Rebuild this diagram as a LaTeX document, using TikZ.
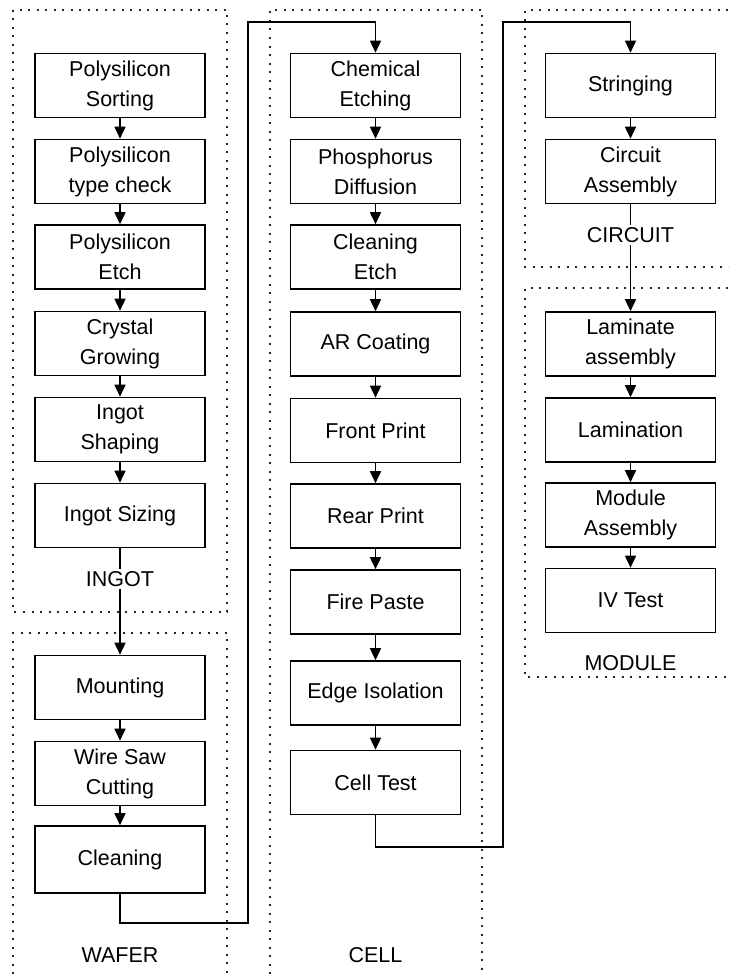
\documentclass[tikz,border=0pt]{standalone}
\usepackage{fontspec}
\setmainfont{Liberation Sans}
\usetikzlibrary{arrows.meta}
\begin{document}
\begin{tikzpicture}[x=1pt,y=-1pt,
  stepbox/.style={draw, line width=1.6pt, minimum width=170pt, minimum height=64pt, inner sep=0pt, align=center, font=\fontsize{21.5}{30}\selectfont},
  grouplbl/.style={inner sep=2pt, font=\fontsize{21.5}{30}\selectfont},
  conn/.style={line width=1.6pt, -{Triangle[width=11pt,length=12pt]}},
  plain/.style={line width=1.6pt},
  grp/.style={line width=2.2pt, dash pattern=on 2pt off 6.5pt, draw=black!85}]
\useasboundingbox (0,0) rectangle (728,974);
% group frames
\draw[grp] (13,10) rectangle (227,612);
\draw[grp] (13,974) -- (13,633) -- (227,633) -- (227,974);
\draw[grp] (270,974) -- (270,10) -- (482,10) -- (482,974);
\draw[grp] (728,10) -- (525,10) -- (525,267) -- (728,267);
\draw[grp] (728,288) -- (525,288) -- (525,677) -- (728,677);
% INGOT column
\node[stepbox] (ps) at (120,85.5) {Polysilicon\\Sorting};
\node[stepbox] (pt) at (120,171.5) {Polysilicon\\type check};
\node[stepbox] (pe) at (120,257) {Polysilicon\\Etch};
\node[stepbox] (cg) at (120,343.5) {Crystal\\Growing};
\node[stepbox] (is) at (120,429.5) {Ingot\\Shaping};
\node[stepbox] (iz) at (120,515.5) {Ingot Sizing};
\node[grouplbl] (lingot) at (120,579) {INGOT};
% WAFER column
\node[stepbox] (mo) at (120,687.5) {Mounting};
\node[stepbox] (ws) at (120,773.5) {Wire Saw\\Cutting};
\node[stepbox, minimum height=67pt] (cl) at (120,859.5) {Cleaning};
\node[grouplbl] (lwafer) at (120,955) {WAFER};
% CELL column
\node[stepbox] (ce) at (375.5,85.5) {Chemical\\Etching};
\node[stepbox] (pd) at (375.5,171.5) {Phosphorus\\Diffusion};
\node[stepbox] (cle) at (375.5,257) {Cleaning\\Etch};
\node[stepbox] (ar) at (375.5,344) {AR Coating};
\node[stepbox] (fp) at (375.5,430.5) {Front Print};
\node[stepbox] (rp) at (375.5,516) {Rear Print};
\node[stepbox] (fi) at (375.5,602) {Fire Paste};
\node[stepbox] (ei) at (375.5,693) {Edge Isolation};
\node[stepbox] (ct) at (375.5,782.5) {Cell Test};
\node[grouplbl] (lcell) at (375.5,955) {CELL};
% CIRCUIT column
\node[stepbox] (st) at (630.5,85.5) {Stringing};
\node[stepbox] (ca) at (630.5,171.5) {Circuit\\Assembly};
\node[grouplbl] (lcircuit) at (630.5,235) {CIRCUIT};
% MODULE column
\node[stepbox] (la) at (630.5,344) {Laminate\\assembly};
\node[stepbox] (lm) at (630.5,430) {Lamination};
\node[stepbox] (ma) at (630.5,515) {Module\\Assembly};
\node[stepbox] (iv) at (630.5,600.5) {IV Test};
\node[grouplbl] (lmodule) at (630.5,663) {MODULE};
% connectors
\draw[conn] (ps) -- (pt);
\draw[conn] (pt) -- (pe);
\draw[conn] (pe) -- (cg);
\draw[conn] (cg) -- (is);
\draw[conn] (is) -- (iz);
\draw[plain] (iz) -- (lingot);
\draw[conn] (lingot) -- (mo);
\draw[conn] (mo) -- (ws);
\draw[conn] (ws) -- (cl);
\coordinate (w1) at (120,923);
\coordinate (w2) at (248,923);
\coordinate (w3) at (248,22);
\coordinate (w4) at (375.5,22);
\draw[conn] (cl.south) -- (w1) -- (w2) -- (w3) -- (w4) -- (ce.north);
\draw[conn] (ce) -- (pd);
\draw[conn] (pd) -- (cle);
\draw[conn] (cle) -- (ar);
\draw[conn] (ar) -- (fp);
\draw[conn] (fp) -- (rp);
\draw[conn] (rp) -- (fi);
\draw[conn] (fi) -- (ei);
\draw[conn] (ei) -- (ct);
\coordinate (c1) at (375.5,847);
\coordinate (c2) at (503,847);
\coordinate (c3) at (503,22);
\coordinate (c4) at (630.5,22);
\draw[conn] (ct.south) -- (c1) -- (c2) -- (c3) -- (c4) -- (st.north);
\draw[conn] (st) -- (ca);
\draw[plain] (ca) -- (lcircuit);
\draw[conn] (lcircuit) -- (la);
\draw[conn] (la) -- (lm);
\draw[conn] (lm) -- (ma);
\draw[conn] (ma) -- (iv);
\end{tikzpicture}
\end{document}
